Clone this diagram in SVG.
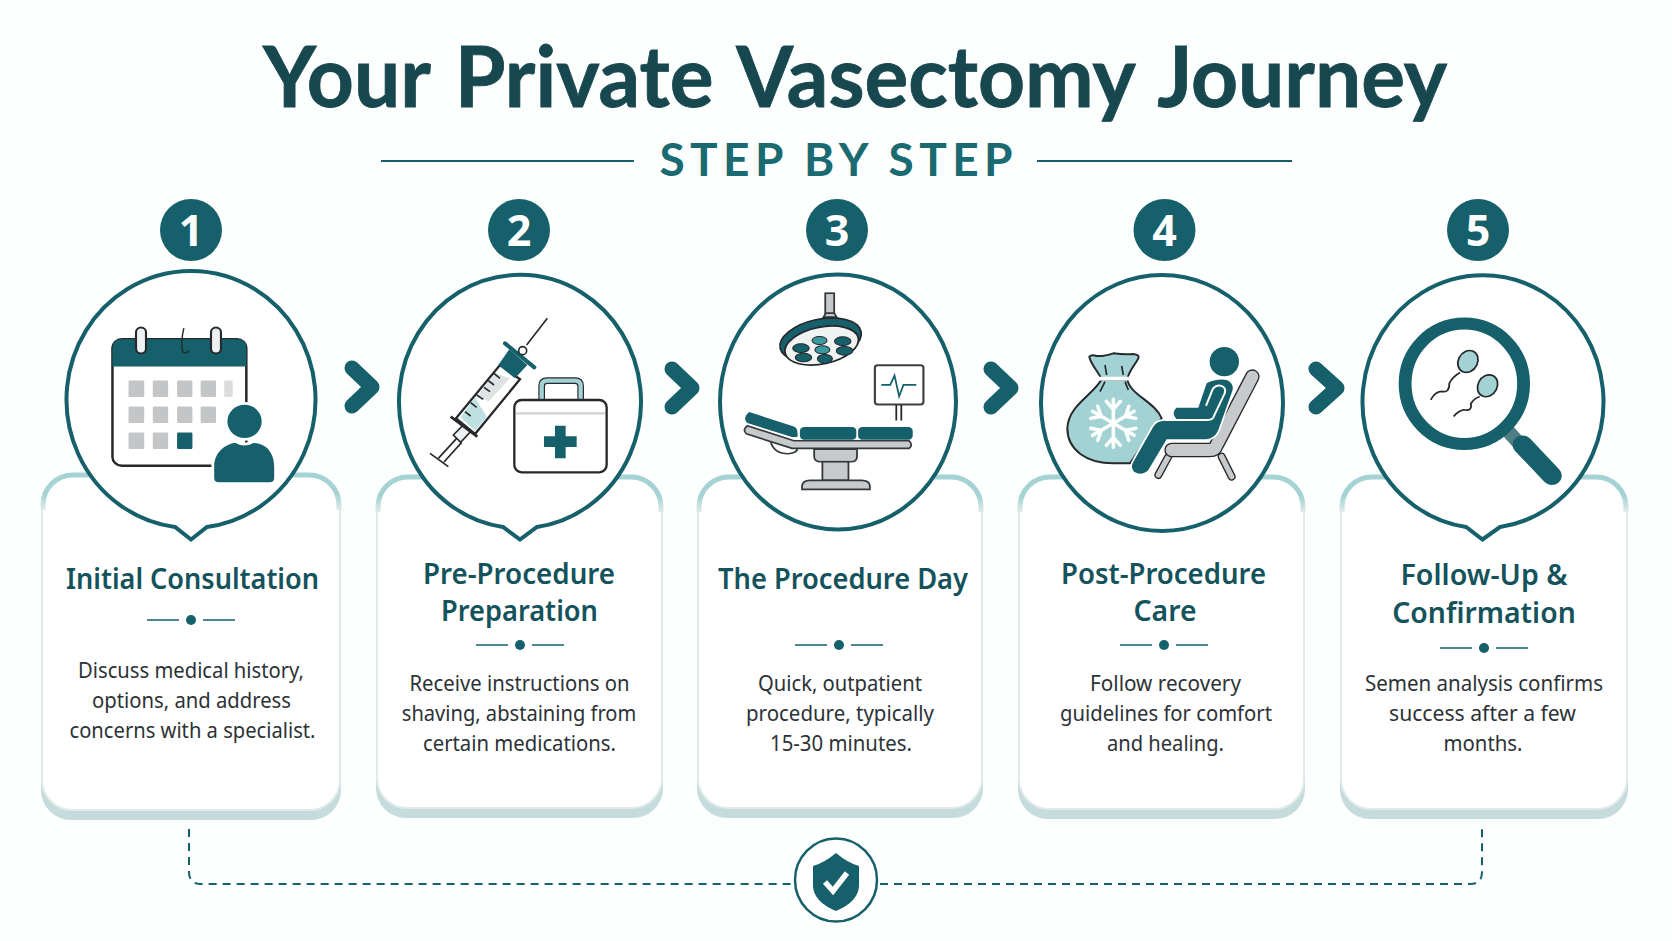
<svg xmlns="http://www.w3.org/2000/svg" width="1672" height="941" viewBox="0 0 1672 941">
<style>
.t{fill:#14525c;font-family:"Noto Sans","Open Sans","Liberation Sans",sans-serif;text-anchor:middle}
.title{font-family:Lato,"Noto Sans",sans-serif;font-size:85px;font-weight:700;fill:#17474f;stroke:#17474f;stroke-width:.8;word-spacing:6px}
.sub{font-family:Lato,"Noto Sans",sans-serif;font-size:46px;font-weight:700;fill:#1a6a72}
.h{font-size:28px;font-weight:600}
.b{fill:#2c3236;font-family:"Noto Sans","Open Sans","Liberation Sans",sans-serif;font-size:21px;text-anchor:middle}
.num{fill:#fff;font-family:"Noto Sans","Open Sans","Liberation Sans",sans-serif;font-size:43px;font-weight:700;text-anchor:middle}
.badge,.teal{fill:#15606a}
.bubble{fill:#fff;stroke:#15606a;stroke-width:4}
.shadow{fill:#c6dbdc}
.card{fill:#fff;stroke:#e1eaea;stroke-width:2}
.top{fill:none;stroke:url(#fade);stroke-width:5}
.rule{stroke:#15606a;stroke-width:2;fill:none}
.thin{stroke:#15606a;stroke-width:1.500;fill:none}
.chev{fill:none;stroke:#15606a;stroke-width:15;stroke-linecap:round;stroke-linejoin:round}
.dash{fill:none;stroke:#15606a;stroke-width:2;stroke-dasharray:8 6}
.ink{stroke:#26292c;stroke-width:7}
.sq{fill:#c3c5c7}
.gray{fill:#c8c9cb;stroke:#33383a;stroke-width:5}
.halo{stroke:#fff;stroke-width:16;paint-order:stroke}
.line{fill:none;stroke:#26292c;stroke-width:5}
</style>
<defs>
<linearGradient id="fade" x1="0" y1="0" x2="0" y2="1"><stop offset="0" stop-color="#a5d3d3"/><stop offset=".55" stop-color="#a5d3d3"/><stop offset="1" stop-color="#dfeaea"/></linearGradient>
<path id="arm" d="M0 0V-24M-7 -22L0 -14L7 -22" stroke="#fff" stroke-width="3.500" fill="none" stroke-linecap="round"/>
</defs>
<rect width="1672" height="941" fill="#fdfefe"/>

<g id="header">
<text class="t title" x="855" y="107" textLength="1184" lengthAdjust="spacingAndGlyphs">Your Private Vasectomy Journey</text>
<text class="t sub" x="836" y="176" textLength="353">STEP BY STEP</text>
<path class="rule" d="M381 161H634M1037 161H1292"/>
</g>

<g id="connectors">
<path class="chev" d="M352 368L372 387L352 406"/>
<path class="chev" d="M672 369L692 388L672 407"/>
<path class="chev" d="M991 369L1011 388L991 407"/>
<path class="chev" d="M1316 369L1337 388L1316 407"/>
<path class="dash" d="M189 829V872Q189 884 201 884H794"/>
<path class="dash" d="M880 884H1470Q1482 884 1482 872V829"/>
</g>

<g id="step1">
<rect class="shadow" x="41" y="720" width="300" height="100" rx="30"/>
<rect class="card" x="42" y="474" width="298" height="336" rx="30"/>
<path class="top" d="M43 510V505A30 30 0 0 1 73 475H309A30 30 0 0 1 339 505V510"/>
<path class="bubble" d="M175 527A124.500 128.500 0 1 1 207 527L191 539.500Z"/>
<circle class="badge" cx="191" cy="230" r="31"/>
<text class="num" x="191" y="246">1</text>
<g transform="translate(0,180) scale(.357,.333)">
<rect class="ink" x="315" y="478" width="375" height="380" rx="26" fill="#fff"/>
<path class="teal" d="M315 560V504Q315 478 341 478H664Q690 478 690 504V560Z"/>
<g fill="#eef0f1" stroke="#26292c" stroke-width="6"><rect x="381" y="443" width="28" height="78" rx="14"/><rect x="591" y="443" width="28" height="78" rx="14"/></g>
<path d="M515 445Q505 490 512 515Q520 525 530 512" fill="none" stroke="#26292c" stroke-width="4"/>
<g class="sq">
<rect x="360" y="602" width="44" height="50" rx="4"/><rect x="428" y="602" width="43" height="50" rx="4"/><rect x="496" y="602" width="43" height="50" rx="4"/><rect x="562" y="602" width="43" height="50" rx="4"/><rect x="628" y="602" width="24" height="50" rx="4" opacity=".6"/>
<rect x="360" y="680" width="44" height="50" rx="4"/><rect x="428" y="680" width="43" height="50" rx="4"/><rect x="496" y="680" width="43" height="50" rx="4"/><rect x="562" y="680" width="43" height="50" rx="4"/>
<rect x="360" y="758" width="44" height="50" rx="4"/><rect x="428" y="758" width="43" height="50" rx="4"/>
</g>
<rect class="teal" x="496" y="758" width="43" height="50" rx="4"/>
<g class="teal halo">
<ellipse cx="685" cy="725" rx="48" ry="50"/>
<path d="M600 895V860C600 812 640 790 660 790Q685 805 710 790C745 790 768 820 768 860V895Q768 908 755 908H613Q600 908 600 895Z"/>
</g>
</g>
<text class="t h" x="192.500" y="589" textLength="253" lengthAdjust="spacingAndGlyphs">Initial Consultation</text>
<path class="thin" d="M147 620H179M203 620H235"/><circle class="badge" cx="191" cy="620" r="5"/>
<text class="b" x="191" y="678" textLength="226" lengthAdjust="spacingAndGlyphs">Discuss medical history,</text>
<text class="b" x="191.500" y="708" textLength="199" lengthAdjust="spacingAndGlyphs">options, and address</text>
<text class="b" x="192.500" y="738" textLength="246" lengthAdjust="spacingAndGlyphs">concerns with a specialist.</text>
</g>

<g id="step2">
<rect class="shadow" x="376" y="720" width="287" height="98" rx="30"/>
<rect class="card" x="377" y="476" width="285" height="332" rx="30"/>
<path class="top" d="M378 512V507A30 30 0 0 1 408 477H631A30 30 0 0 1 661 507V512"/>
<path class="bubble" d="M503 527A121 126.700 0 1 1 537 527L520 539.500Z"/>
<circle class="badge" cx="519" cy="230" r="31"/>
<text class="num" x="519" y="246">2</text>
<g transform="translate(420,310) scale(.3333)">
<path class="line" d="M382 25L320 105" stroke-width="5"/>
<path d="M110 385L55 445M125 397L72 456" class="line" stroke-width="6"/>
<path d="M30 430L85 470" class="line" stroke-width="11"/>
<path d="M100 375L130 345L152 365L122 397Z" fill="#eef0f1" stroke="#26292c" stroke-width="5"/>
<path d="M240 165L300 208L165 372L108 325Z" fill="#fff" stroke="#26292c" stroke-width="7"/>
<path d="M165 262L122 322L165 362L200 320Z" fill="#bfe0e0"/>
<path d="M225 190L175 255L205 275L270 205Z" fill="#dfe3e3"/>
<path d="M222 190L240 205M205 212L222 225M192 232L210 245M170 255L190 268M152 278L170 292M135 305L152 318" class="line" stroke-width="6"/>
<path class="teal" d="M268 118L322 165L285 205L235 165Z"/>
<path d="M255 100L343 172" fill="none" stroke="#15606a" stroke-width="12" stroke-linecap="round"/>
<path d="M92 320L172 380" fill="none" stroke="#26292c" stroke-width="8"/>
<circle cx="308" cy="122" r="12" fill="#fff" stroke="#26292c" stroke-width="5"/>
<path d="M365 270V228Q365 212 382 212H465Q482 212 482 228V270" fill="none" stroke="#26292c" stroke-width="20"/>
<path d="M365 270V228Q365 212 382 212H465Q482 212 482 228V270" fill="none" stroke="#a3d2d4" stroke-width="13"/>
<rect x="283" y="270" width="277" height="217" rx="22" fill="#fff" stroke="#26292c" stroke-width="7"/>
<path d="M288 310H555" stroke="#cfd2d3" stroke-width="7"/>
<path class="teal" d="M405 347H437V379H470V411H437V445H405V411H372V379H405Z"/>
</g>
<text class="t h" x="519" y="584" textLength="192" lengthAdjust="spacingAndGlyphs">Pre-Procedure</text>
<text class="t h" x="519.500" y="621" textLength="157" lengthAdjust="spacingAndGlyphs">Preparation</text>
<path class="thin" d="M476 645H508M532 645H564"/><circle class="badge" cx="520" cy="645" r="5"/>
<text class="b" x="519.500" y="691" textLength="220" lengthAdjust="spacingAndGlyphs">Receive instructions on</text>
<text class="b" x="519" y="721" textLength="234.500" lengthAdjust="spacingAndGlyphs">shaving, abstaining from</text>
<text class="b" x="519.500" y="751" textLength="193" lengthAdjust="spacingAndGlyphs">certain medications.</text>
</g>

<g id="step3">
<rect class="shadow" x="697" y="720" width="286" height="98" rx="30"/>
<rect class="card" x="698" y="476" width="284" height="332" rx="30"/>
<path class="top" d="M699 512V507A30 30 0 0 1 729 477H951A30 30 0 0 1 981 507V512"/>
<ellipse class="bubble" cx="838" cy="402" rx="118" ry="127.500"/>
<circle class="badge" cx="837" cy="230" r="31"/>
<text class="num" x="837" y="246">3</text>
<g transform="translate(560,180) scale(.357,.333)">
<rect class="gray" x="743" y="340" width="25" height="62"/>
<path class="gray" d="M738 412L745 400H768L775 412Z"/>
<ellipse cx="730" cy="480" rx="116" ry="62" transform="rotate(-13 730 480)" fill="#15606a" stroke="#26292c" stroke-width="5"/>
<ellipse cx="733" cy="497" rx="105" ry="55" transform="rotate(-13 733 497)" fill="#f1f3f3" stroke="#26292c" stroke-width="5"/>
<g class="teal" stroke="#26292c" stroke-width="3">
<ellipse cx="675" cy="505" rx="23" ry="13"/><ellipse cx="792" cy="484" rx="23" ry="13"/><ellipse cx="797" cy="513" rx="23" ry="13"/><ellipse cx="682" cy="533" rx="23" ry="13"/><ellipse cx="742" cy="537" rx="21" ry="13"/>
<ellipse cx="727" cy="482" rx="21" ry="12" fill="#3c9a9e"/><ellipse cx="735" cy="510" rx="21" ry="12" fill="#3c9a9e"/>
</g>
<rect x="882" y="556" width="136" height="118" rx="8" fill="#fff" stroke="#3a3f42" stroke-width="6"/>
<path d="M900 615H925L937 587L950 650L962 615H998" fill="none" stroke="#15606a" stroke-width="5"/>
<path d="M942 676V722M956 676V722" stroke="#26292c" stroke-width="5"/>
<path class="gray" d="M590 785Q598 822 640 822Q665 820 665 805" style="fill:#fff"/>
<path class="gray" d="M525 738L655 783H978Q990 795 978 806H650L522 762Q510 750 525 738Z"/>
<path class="teal" d="M530 697L655 740Q668 745 665 772L650 772L525 730Q510 715 530 697Z"/>
<rect class="teal" x="672" y="742" width="158" height="38" rx="12"/>
<rect class="teal" x="835" y="742" width="153" height="38" rx="12"/>
<path class="gray" d="M712 808H832V830Q832 846 815 846H730Q712 846 712 830Z"/>
<rect class="gray" x="735" y="846" width="73" height="56"/>
<path class="gray" d="M678 929V918Q680 902 700 902H845Q866 902 868 918V929Z"/>
</g>
<text class="t h" x="843" y="589" textLength="250" lengthAdjust="spacingAndGlyphs">The Procedure Day</text>
<path class="thin" d="M795 645H827M851 645H883"/><circle class="badge" cx="839" cy="645" r="5"/>
<text class="b" x="840" y="691" textLength="164" lengthAdjust="spacingAndGlyphs">Quick, outpatient</text>
<text class="b" x="840" y="721" textLength="188" lengthAdjust="spacingAndGlyphs">procedure, typically</text>
<text class="b" x="841" y="751" textLength="142" lengthAdjust="spacingAndGlyphs">15-30 minutes.</text>
</g>

<g id="step4">
<rect class="shadow" x="1018" y="720" width="287" height="99" rx="30"/>
<rect class="card" x="1019" y="476" width="285" height="333" rx="30"/>
<path class="top" d="M1020 512V507A30 30 0 0 1 1050 477H1273A30 30 0 0 1 1303 507V512"/>
<ellipse class="bubble" cx="1162" cy="403" rx="121" ry="128"/>
<circle class="badge" cx="1164.500" cy="230" r="31"/>
<text class="num" x="1164.500" y="246">4</text>
<g transform="translate(1050,330) scale(.3333)">
<path d="M155 148C130 195 55 225 52 295C52 360 110 400 190 400H240L335 265C315 215 240 195 232 148Z" fill="#a3d2d4" stroke="#26292c" stroke-width="6"/>
<path d="M155 148C145 125 120 100 118 80Q125 72 140 78Q160 80 190 70Q225 75 250 72Q270 75 265 85C255 105 235 125 232 148Z" fill="#a3d2d4" stroke="#26292c" stroke-width="6"/>
<path d="M145 146H245" stroke="#fff" stroke-width="11"/>
<path d="M165 105L170 135M215 108L220 135M165 155L150 185M225 155L235 180" class="line" stroke-width="4"/>
<g transform="translate(190,280) scale(3)"><use href="#arm"/><use href="#arm" transform="rotate(60)"/><use href="#arm" transform="rotate(120)"/><use href="#arm" transform="rotate(180)"/><use href="#arm" transform="rotate(240)"/><use href="#arm" transform="rotate(300)"/></g>
<g fill="none" stroke-linecap="round" stroke-linejoin="round">
<path d="M355 380L325 435M515 380L545 440" stroke="#26292c" stroke-width="24"/>
<path d="M355 380L325 435M515 380L545 440" stroke="#c8c9cb" stroke-width="16"/>
<path d="M607 140L500 345Q495 360 480 360H365" stroke="#26292c" stroke-width="44"/>
<path d="M607 140L500 345Q495 360 480 360H365" stroke="#c8c9cb" stroke-width="36"/>
</g>
<circle class="teal" cx="523" cy="95" r="44"/>
<path class="teal" d="M470 160Q500 145 530 150Q552 160 548 180L505 300Q495 325 470 328H350L295 420Q275 440 252 425Q240 410 252 392L310 290Q320 272 345 272H385Q360 250 380 233H445Z" stroke="#fff" stroke-width="10" paint-order="stroke"/>
<path d="M468 228L488 178Q497 165 512 167Q530 172 524 190L490 262Q486 270 470 270H345" fill="none" stroke="#fff" stroke-width="6"/>
</g>
<text class="t h" x="1163.500" y="584" textLength="205" lengthAdjust="spacingAndGlyphs">Post-Procedure</text>
<text class="t h" x="1165" y="621" textLength="63" lengthAdjust="spacingAndGlyphs">Care</text>
<path class="thin" d="M1120 645H1152M1176 645H1208"/><circle class="badge" cx="1164" cy="645" r="5"/>
<text class="b" x="1165.500" y="691" textLength="151" lengthAdjust="spacingAndGlyphs">Follow recovery</text>
<text class="b" x="1166" y="721" textLength="212" lengthAdjust="spacingAndGlyphs">guidelines for comfort</text>
<text class="b" x="1165.500" y="751" textLength="117" lengthAdjust="spacingAndGlyphs">and healing.</text>
</g>

<g id="step5">
<rect class="shadow" x="1340" y="720" width="288" height="99" rx="30"/>
<rect class="card" x="1341" y="476" width="286" height="333" rx="30"/>
<path class="top" d="M1342 512V507A30 30 0 0 1 1372 477H1596A30 30 0 0 1 1626 507V512"/>
<path class="bubble" d="M1466 527A120.500 126.500 0 1 1 1500 527L1482.500 539.500Z"/>
<circle class="badge" cx="1478" cy="230" r="31"/>
<text class="num" x="1478" y="246">5</text>
<g transform="translate(1112,180) scale(.357,.333)">
<path d="M1110 755L1140 790" stroke="#4f7d84" stroke-width="40"/>
<path d="M1150 795L1232 888" stroke="#15606a" stroke-width="56" stroke-linecap="round"/>
<ellipse cx="987" cy="612" rx="166" ry="181" fill="#fff" stroke="#15606a" stroke-width="36"/>
<ellipse cx="997" cy="545" rx="27" ry="34" transform="rotate(25 997 545)" fill="#a3d2d4" stroke="#26292c" stroke-width="5"/>
<ellipse cx="1052" cy="618" rx="27" ry="34" transform="rotate(25 1052 618)" fill="#a3d2d4" stroke="#26292c" stroke-width="5"/>
<path d="M975 578Q955 590 945 610Q945 640 925 635Q905 635 893 660" class="line"/>
<path d="M1030 650Q1015 655 1005 672Q1010 695 985 690Q968 695 957 710" class="line"/>
</g>
<text class="t h" x="1484" y="585" textLength="167" lengthAdjust="spacingAndGlyphs">Follow-Up &amp;</text>
<text class="t h" x="1484" y="623" textLength="183.500" lengthAdjust="spacingAndGlyphs">Confirmation</text>
<path class="thin" d="M1440 648H1472M1496 648H1528"/><circle class="badge" cx="1484" cy="648" r="5"/>
<text class="b" x="1484" y="691" textLength="238" lengthAdjust="spacingAndGlyphs">Semen analysis confirms</text>
<text class="b" x="1482.500" y="721" textLength="187" lengthAdjust="spacingAndGlyphs">success after a few</text>
<text class="b" x="1483" y="751" textLength="79" lengthAdjust="spacingAndGlyphs">months.</text>
</g>

<g id="shield">
<ellipse cx="836" cy="880" rx="41" ry="41.500" fill="#fff" stroke="#15606a" stroke-width="2.500"/>
<path class="teal" d="M836 853Q848 863 859 866V885C859 898 848 906 836 911C824 906 813 898 813 885V866Q824 863 836 853Z"/>
<path d="M825 882L833 891L847 873" fill="none" stroke="#fff" stroke-width="5.500"/>
</g>
</svg>
